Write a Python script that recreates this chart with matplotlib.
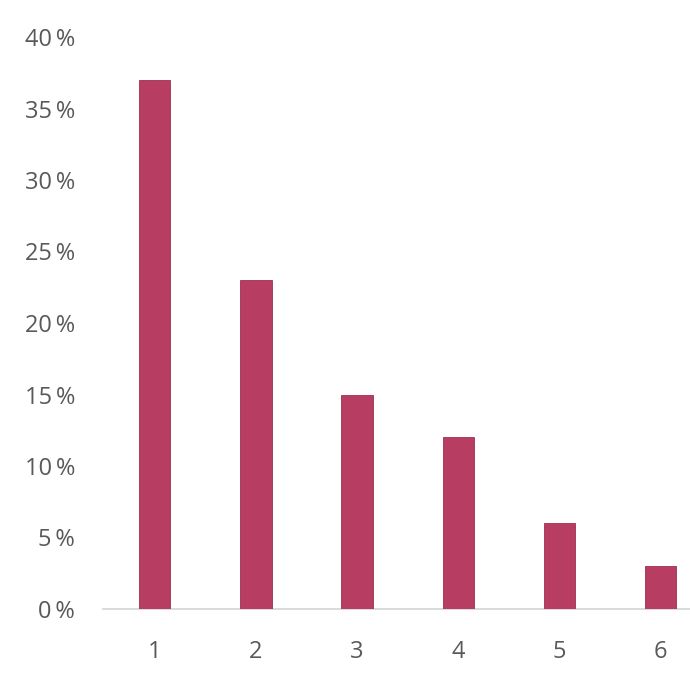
import matplotlib.pyplot as plt
from matplotlib.ticker import FuncFormatter

# values
categories = [1, 2, 3, 4, 5, 6]
shares = [0.37, 0.23, 0.15, 0.12, 0.06, 0.03]
y_ticks = [0.0, 0.05, 0.10, 0.15, 0.20, 0.25, 0.30, 0.35, 0.40]

BAR_COLOR = "#B83D63"
TEXT_COLOR = "#595959"

plt.rcParams['font.family'] = ['Open Sans', 'DejaVu Sans']

fig = plt.figure(figsize=(6.9, 6.9), dpi=100)
ax = fig.add_axes([103 / 690, 81 / 690, 1 - 103 / 690, (609 - 37) / 690])

ax.bar(categories, shares, width=0.31, color=BAR_COLOR, edgecolor="#9E3050", linewidth=0.6, zorder=3)

ax.set_xlim(0.49, 6.29)
ax.set_ylim(0, 0.40)
ax.set_xticks(categories)
ax.set_yticks(y_ticks)
ax.yaxis.set_major_formatter(FuncFormatter(lambda v, _: f"{v * 100:.0f}\u2009%"))

for side in ["top", "right", "left"]:
    ax.spines[side].set_visible(False)
ax.spines["bottom"].set_color("#D0D4D4")
ax.spines["bottom"].set_linewidth(1.2)

ax.tick_params(axis="both", length=0, labelsize=17, colors=TEXT_COLOR)
ax.tick_params(axis="y", pad=20)
ax.tick_params(axis="x", pad=22)

fig.savefig("out.png", dpi=100)
plt.close(fig)
